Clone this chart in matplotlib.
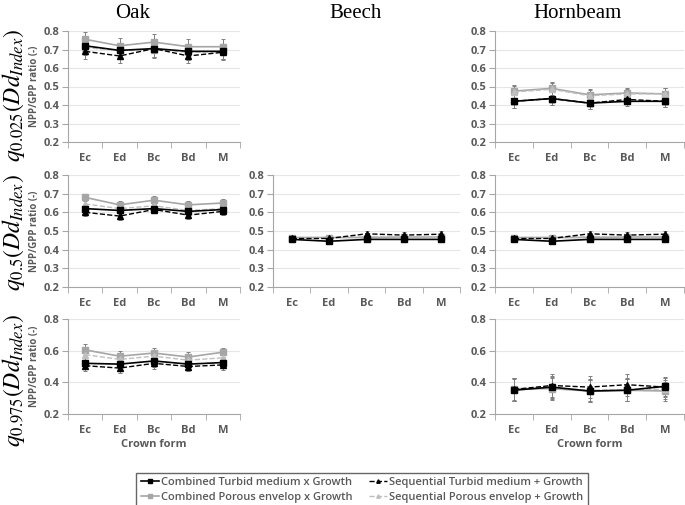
import matplotlib
matplotlib.use("Agg")
import matplotlib.pyplot as plt
from matplotlib.lines import Line2D
import numpy as np

categories = ["Ec", "Ed", "Bc", "Bd", "M"]
series_names = ["Combined Turbid medium x Growth", "Combined Porous envelop x Growth",
                "Sequential Turbid medium + Growth", "Sequential Porous envelop + Growth"]

# Oak
oak_q025_ct = [0.72, 0.695, 0.705, 0.69, 0.69]
oak_q025_cp = [0.755, 0.72, 0.74, 0.715, 0.715]
oak_q025_st = [0.69, 0.665, 0.705, 0.665, 0.685]
oak_q025_sp = [0.71, 0.695, 0.70, 0.685, 0.69]
oak_q025_err = [0.04, 0.04, 0.045, 0.04, 0.04]

oak_q05_ct = [0.62, 0.61, 0.62, 0.605, 0.615]
oak_q05_cp = [0.68, 0.64, 0.665, 0.64, 0.65]
oak_q05_st = [0.60, 0.58, 0.615, 0.585, 0.605]
oak_q05_sp = [0.645, 0.62, 0.635, 0.61, 0.62]
oak_q05_err = [0.02, 0.02, 0.02, 0.02, 0.02]

oak_q975_ct = [0.52, 0.515, 0.535, 0.515, 0.525]
oak_q975_cp = [0.605, 0.565, 0.585, 0.56, 0.59]
oak_q975_st = [0.505, 0.49, 0.52, 0.50, 0.51]
oak_q975_sp = [0.575, 0.545, 0.565, 0.54, 0.555]
oak_q975_err = [0.035, 0.03, 0.035, 0.03, 0.03]

# Beech (median only)
beech_q05_ct = [0.455, 0.445, 0.455, 0.455, 0.455]
beech_q05_cp = [0.465, 0.465, 0.465, 0.468, 0.468]
beech_q05_st = [0.46, 0.46, 0.485, 0.478, 0.483]
beech_q05_sp = [0.465, 0.465, 0.47, 0.47, 0.47]
beech_q05_err = [0.015, 0.015, 0.015, 0.015, 0.015]

# Hornbeam
horn_q025_ct = [0.42, 0.435, 0.41, 0.42, 0.42]
horn_q025_cp = [0.475, 0.49, 0.455, 0.465, 0.46]
horn_q025_st = [0.42, 0.435, 0.41, 0.43, 0.42]
horn_q025_sp = [0.47, 0.485, 0.45, 0.46, 0.46]
horn_q025_err = [0.035, 0.035, 0.03, 0.025, 0.03]

horn_q05_ct = [0.455, 0.445, 0.455, 0.455, 0.455]
horn_q05_cp = [0.465, 0.465, 0.465, 0.468, 0.468]
horn_q05_st = [0.46, 0.46, 0.485, 0.478, 0.483]
horn_q05_sp = [0.465, 0.465, 0.47, 0.47, 0.47]
horn_q05_err = [0.015, 0.015, 0.015, 0.015, 0.015]

horn_q975_ct = [0.35, 0.37, 0.345, 0.35, 0.375]
horn_q975_cp = [0.36, 0.36, 0.345, 0.35, 0.345]
horn_q975_st = [0.355, 0.38, 0.37, 0.385, 0.37]
horn_q975_sp = [0.355, 0.365, 0.35, 0.355, 0.355]
horn_q975_err = [0.07, 0.07, 0.07, 0.07, 0.06]

species = ["Oak", "Beech", "Hornbeam"]
row_labels = [r"$q_{0.025}(Dd_{Index})$", r"$q_{0.5}(Dd_{Index})$", r"$q_{0.975}(Dd_{Index})$"]
ylabel_text = "NPP/GPP ratio (-)"
xlabel_text = "Crown form"

panels = {
    (0, 0): (oak_q025_ct, oak_q025_cp, oak_q025_st, oak_q025_sp, oak_q025_err),
    (1, 0): (oak_q05_ct, oak_q05_cp, oak_q05_st, oak_q05_sp, oak_q05_err),
    (2, 0): (oak_q975_ct, oak_q975_cp, oak_q975_st, oak_q975_sp, oak_q975_err),
    (1, 1): (beech_q05_ct, beech_q05_cp, beech_q05_st, beech_q05_sp, beech_q05_err),
    (0, 2): (horn_q025_ct, horn_q025_cp, horn_q025_st, horn_q025_sp, horn_q025_err),
    (1, 2): (horn_q05_ct, horn_q05_cp, horn_q05_st, horn_q05_sp, horn_q05_err),
    (2, 2): (horn_q975_ct, horn_q975_cp, horn_q975_st, horn_q975_sp, horn_q975_err),
}

W, H = 685, 505
fig = plt.figure(figsize=(W / 100, H / 100), dpi=100)
plt.rcParams['mathtext.fontset'] = 'stix'

cols_px = [(68, 240), (273, 460), (495, 684)]
rows_px = [(31, 142), (175, 287), (319, 414)]
row_yticks = [[0.2, 0.3, 0.4, 0.5, 0.6, 0.7, 0.8],
              [0.2, 0.3, 0.4, 0.5, 0.6, 0.7, 0.8],
              [0.2, 0.4, 0.6, 0.8]]

TXT = "#595959"
SANS = "Open Sans"

styles = [
    dict(color="black", ls="-", marker="s", ms=5, lw=1.2),          # combined turbid
    dict(color="#a6a6a6", ls="-", marker="s", ms=5, lw=1.2),        # combined porous
    dict(color="black", ls="--", marker="^", ms=4, lw=1.0),         # sequential turbid
    dict(color="#bfbfbf", ls="--", marker="^", ms=4, lw=1.0),       # sequential porous
]

def add_ax(c, r):
    l, rr = cols_px[c]
    t, b = rows_px[r]
    return fig.add_axes([l / W, 1 - b / H, (rr - l) / W, (b - t) / H])

x = np.arange(len(categories))
for (r, c), data in panels.items():
    ax = add_ax(c, r)
    ct, cp, st, sp, err = data
    order = [(cp, styles[1]), (sp, styles[3]), (st, styles[2]), (ct, styles[0])]
    for vals, sty in order:
        ax.errorbar(x, vals, yerr=err, color=sty["color"], ls=sty["ls"], lw=sty["lw"],
                    marker=sty["marker"], ms=sty["ms"], ecolor="#7f7f7f", elinewidth=0.7,
                    capsize=1.5, capthick=0.7, zorder=3)
    ax.set_xlim(-0.5, len(categories) - 0.5)
    ax.set_ylim(0.2, 0.8)
    ax.set_yticks(row_yticks[r])
    ax.set_yticklabels([f"{v:.1f}" for v in row_yticks[r]], fontsize=8, color=TXT,
                       fontweight="bold", family=SANS)
    ax.set_xticks(x)
    ax.set_xticklabels(categories, fontsize=8, color=TXT, fontweight="bold", family=SANS)
    ax.set_xticks(np.arange(-0.5, len(categories), 1.0), minor=True)
    ax.tick_params(axis="x", which="major", length=0, pad=8)
    ax.tick_params(axis="x", which="minor", length=4, color="#a6a6a6", direction="out")
    ax.tick_params(axis="y", length=4, color="#a6a6a6", direction="out", pad=2)
    ax.grid(axis="y", color="#e6e6e6", lw=0.8, zorder=0)
    ax.set_axisbelow(True)
    for s in ["top", "right"]:
        ax.spines[s].set_visible(False)
    for s in ["left", "bottom"]:
        ax.spines[s].set_color("#a6a6a6")
        ax.spines[s].set_linewidth(0.8)
    if c == 0:
        ax.set_ylabel(ylabel_text, fontsize=7, color=TXT, fontweight="bold", family=SANS, labelpad=3)
    if r == 2:
        ax.set_xlabel(xlabel_text, fontsize=8, color=TXT, fontweight="bold", family=SANS, labelpad=2)

# column titles
title_x = [133, 356, 578]
for name, tx in zip(species, title_x):
    fig.text(tx / W, 1 - 13 / H, name, ha="center", va="center", fontsize=15,
             family="Liberation Serif")

# row labels
row_label_y = [95, 233, 380]
for lab, ry in zip(row_labels, row_label_y):
    fig.text(14 / W, 1 - ry / H, lab, ha="center", va="center", rotation=90, fontsize=17)

handles = [Line2D([], [], color=s["color"], ls=s["ls"], lw=s["lw"], marker=s["marker"],
                  ms=s["ms"] - 1.5) for s in styles]
leg = fig.legend(handles, series_names, loc="center", bbox_to_anchor=(362 / W, 1 - 490 / H),
                 ncol=2, frameon=True, fancybox=False, columnspacing=1.5,
                 handlelength=1.6, handletextpad=0.2, borderpad=0.4, labelspacing=0.35,
                 prop={"family": SANS, "size": 8, "weight": "semibold"})
leg.get_frame().set_edgecolor("#404040")
leg.get_frame().set_linewidth(1.0)
for t in leg.get_texts():
    t.set_color(TXT)

fig.savefig("out.png", dpi=100)
